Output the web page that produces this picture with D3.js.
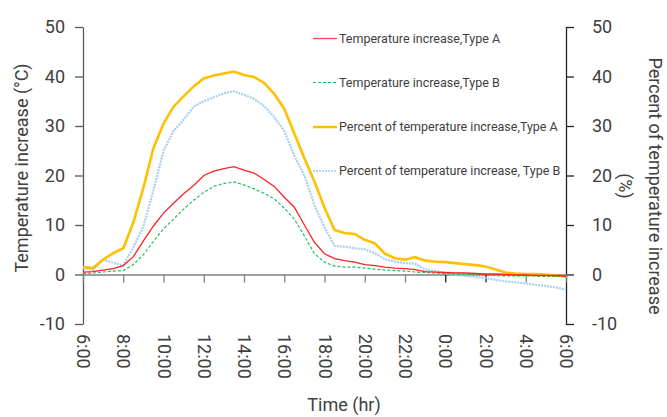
<!DOCTYPE html>
<html><head><meta charset="utf-8">
<script src="https://cdn.jsdelivr.net/npm/d3@7/dist/d3.min.js"></script>
<style>body{margin:0;background:#fff}svg{display:block}text{font-family:Roboto,"Noto Sans",sans-serif;fill:#404040}</style>
</head><body><svg id="c" width="667" height="417"></svg>
<script>
// hours since 6:00
const hours = d3.range(0, 24.01, 0.5);
const tickLabels = ["6:00","8:00","10:00","12:00","14:00","16:00","18:00","20:00","22:00","0:00","2:00","4:00","6:00"];
const yTicks = [-10,0,10,20,30,40,50];
const seriesNames = ["Temperature increase,Type A","Temperature increase,Type B","Percent of temperature increase,Type A","Percent of temperature increase, Type B"];
const tempA = [0.5,0.6,0.9,1.2,1.8,3.6,6.8,9.8,12.4,14.4,16.3,18,20,20.9,21.4,21.8,21.1,20.5,19.2,17.8,15.6,13.6,10,6.5,4.2,3.2,2.8,2.5,2.0,1.8,1.5,1.3,1.2,1.0,0.6,0.5,0.4,0.3,0.3,0.2,0.1,0.1,0,-0.1,-0.1,-0.2,-0.2,-0.2,-0.3];
const tempB = [0.2,0.3,0.5,0.7,0.8,2.0,4.0,6.7,9.2,11.2,13.2,15,16.6,17.8,18.4,18.7,18.1,17.3,16.4,15.3,13.4,11.2,7.8,4.2,2.5,1.7,1.5,1.5,1.3,1.1,0.9,0.8,0.7,0.5,0.4,0.3,0.2,0.1,0,0,-0.1,-0.2,-0.3,-0.3,-0.3,-0.3,-0.4,-0.4,-0.4];
const pctA = [1.5,1.3,3.0,4.3,5.3,10.5,17.5,25.5,30.5,33.9,36,38,39.6,40.2,40.6,41,40.3,39.9,38.7,36.5,33.5,28.5,23.5,18.8,13.5,9,8.4,8.2,7,6.3,4.2,3.3,3,3.5,2.8,2.6,2.5,2.3,2.1,1.9,1.6,1.0,0.4,0.2,0.1,0.1,0,-0.2,-0.4];
const pctB = [1.3,0.9,3.0,2.4,1.8,5.5,9.7,17,25,29,31.3,33.9,35,35.8,36.6,37,36.3,35.5,34,31.8,29,24,20,14,9.5,5.8,5.6,5.3,5.1,4.3,3.1,2.6,2.3,2.2,1.0,0.7,0.3,-0.1,-0.3,-0.5,-0.7,-1.1,-1.4,-1.6,-1.8,-2.1,-2.3,-2.6,-3.1];

const svg = d3.select("#c");
const x = d3.scaleLinear().domain([0,24]).range([83,566]);
const y = d3.scaleLinear().domain([-10,50]).range([324,27]);
const fmt = d => String(d);

// left axis
const la = svg.append("g").attr("transform","translate(83,0)")
  .call(d3.axisLeft(y).tickValues(yTicks).tickFormat(fmt).tickSize(8).tickSizeOuter(0).tickPadding(10));
la.select(".domain").attr("stroke","#595959").attr("stroke-width",1.3);
la.selectAll(".tick line").attr("stroke","#595959").attr("stroke-width",1.3);
la.selectAll("text").style("font-size","18px").attr("fill","#404040");
// right axis
const ra = svg.append("g").attr("transform","translate(566,0)")
  .call(d3.axisRight(y).tickValues(yTicks).tickFormat(fmt).tickSize(8).tickSizeOuter(0).tickPadding(18));
ra.select(".domain").attr("stroke","#222").attr("stroke-width",1.3);
ra.selectAll(".tick line").attr("stroke","#222").attr("stroke-width",1.3);
ra.selectAll("text").style("font-size","18px").attr("fill","#404040");
// x axis at zero
const xa = svg.append("g").attr("transform",`translate(0,${y(0)})`)
  .call(d3.axisBottom(x).tickValues(d3.range(0,24.01,2)).tickFormat((d,i)=>tickLabels[i]).tickSize(8).tickSizeOuter(0));
xa.select(".domain").attr("stroke","#808080").attr("stroke-width",1.5);
xa.selectAll(".tick line").attr("stroke",d=>(d===18||d===20)?"#222":"#808080").attr("stroke-width",1.3);
xa.selectAll("text").style("font-size","18px").attr("fill","#404040")
  .attr("transform",`rotate(90)`).attr("text-anchor","start").attr("dy","0.35em")
  .attr("x", y(-10) - y(0) + 10).attr("y",0);

// lines
const mk = v => d3.line().x((d,i)=>x(hours[i])).y(d=>y(d))(v);
svg.append("path").attr("d",mk(pctB)).attr("fill","none").attr("stroke","#9dcbec").attr("stroke-width",2.2).attr("stroke-dasharray","2,1").attr("opacity",0.9);
svg.append("path").attr("d",mk(pctA)).attr("fill","none").attr("stroke","#ffc000").attr("stroke-width",2.6);
svg.append("path").attr("d",mk(tempB)).attr("fill","none").attr("stroke","#22c05a").attr("stroke-width",1.2).attr("stroke-dasharray","3,2");
svg.append("path").attr("d",mk(tempA)).attr("fill","none").attr("stroke","#ff2020").attr("stroke-width",1.3);

// legend
const legStyles = [
  {c:"#ff4040",w:1.3,d:null},
  {c:"#22c05a",w:1.2,d:"3,2"},
  {c:"#ffc000",w:2.5,d:null},
  {c:"#9dcbec",w:1.5,d:"2,1"}];
const legY = [38.5,82.5,127,171];
seriesNames.forEach((n,i)=>{
  const g = svg.append("g").attr("transform",`translate(0,${legY[i]})`);
  g.append("line").attr("x1",313).attr("x2",337).attr("stroke",legStyles[i].c).attr("stroke-width",legStyles[i].w).attr("stroke-dasharray",legStyles[i].d);
  g.append("text").attr("x",339).attr("dy","0.35em").style("font-size","12.5px").attr("fill","#404040").text(n);
});

// titles
svg.append("text").attr("transform","translate(22,168) rotate(-90)").attr("text-anchor","middle").attr("dy","0.35em").style("font-size","18px").text("Temperature increase (°C)");
svg.append("text").attr("transform","translate(655,186) rotate(90)").attr("text-anchor","middle").attr("dy","0.35em").style("font-size","18px").text("Percent of temperature increase");
svg.append("text").attr("transform","translate(625,186) rotate(90)").attr("text-anchor","middle").attr("dy","0.35em").style("font-size","18px").text("(%)");
svg.append("text").attr("x",344).attr("y",405).attr("text-anchor","middle").attr("dy","0.35em").style("font-size","18px").text("Time (hr)");
</script></body></html>
